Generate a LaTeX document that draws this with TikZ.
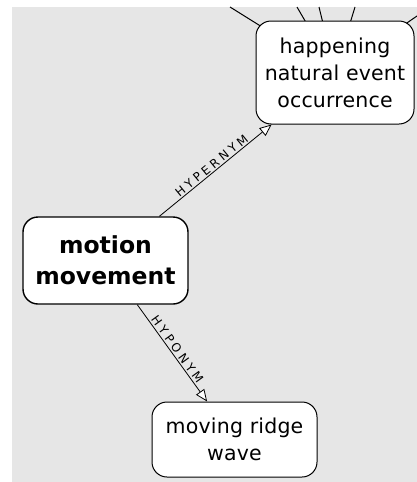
\documentclass[tikz,border=0pt]{standalone}
\usepackage{fontspec}
\setmainfont{DejaVu Sans}
\usetikzlibrary{arrows.meta,backgrounds}
\definecolor{panel}{HTML}{E6E6E6}
\tikzset{
 box/.style={draw=black,line width=1pt,rounded corners=15pt,fill=white,align=center,inner sep=0pt,font=\fontsize{20.5}{27}\selectfont\addfontfeature{LetterSpace=1}},
 head/.style={box,line width=1.4pt,font=\bfseries\fontsize{23.5}{31}\selectfont},
 arrow/.style={line width=0.8pt,-{Triangle[length=12pt,width=10pt,fill=white,line width=0.8pt]}},
 link/.style={line width=1pt},
 note/.style={font=\fontsize{12}{14}\selectfont\addfontfeature{LetterSpace=28},inner sep=1.5pt}
}

\begin{document}
\begin{tikzpicture}[x=1pt,y=-1pt]
\useasboundingbox (0,0) rectangle (417,482);
\node[box,minimum width=158pt,minimum height=103pt] (happening) at (335,72.5) {happening\\natural event\\occurrence};
\node[head,minimum width=165pt,minimum height=87pt] (motion) at (105.5,260.5) {motion\\movement};
\node[box,minimum width=165pt,minimum height=75pt] (wave) at (234.5,439.5) {moving ridge\\wave};
% links to synsets cut off by the view
\coordinate (up1) at (230,7);
\coordinate (up2) at (297,7);
\coordinate (up3) at (319,7);
\coordinate (up4) at (355,7);
\coordinate (up5) at (417,16);
\begin{scope}[on background layer]
\fill[panel] (12,7) rectangle (417,482);
\foreach \c in {up1,up2,up3,up4,up5} \draw[link] (\c) -- (happening.center);
\end{scope}
\draw[arrow] (motion) -- node[note,sloped,above] {HYPERNYM} (happening);
\draw[arrow] (motion) -- node[note,sloped,above] {HYPONYM} (wave);
\end{tikzpicture}
\end{document}
